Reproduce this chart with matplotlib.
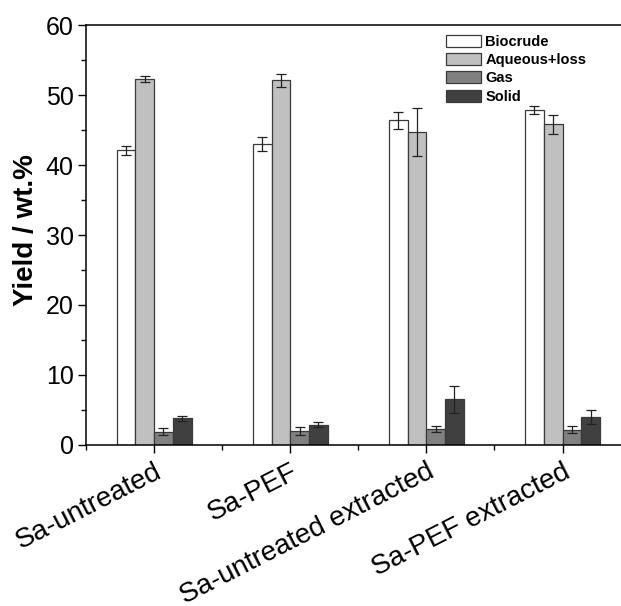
import numpy as np
import matplotlib.pyplot as plt
from matplotlib.ticker import MultipleLocator, FixedLocator

plt.rcParams['font.family'] = ['Liberation Sans', 'DejaVu Sans']

samples = ['Sa-untreated', 'Sa-PEF', 'Sa-untreated extracted', 'Sa-PEF extracted']
phases = ['Biocrude', 'Aqueous+loss', 'Gas', 'Solid']
colors = ['#ffffff', '#c0c0c0', '#808080', '#404040']

biocrude = [42.1, 43.0, 46.4, 47.9]
biocrude_err = [0.6, 1.0, 1.2, 0.55]
aqueous = [52.3, 52.1, 44.7, 45.8]
aqueous_err = [0.4, 0.9, 3.4, 1.3]
gas = [1.9, 2.0, 2.3, 2.2]
gas_err = [0.5, 0.55, 0.4, 0.5]
solid = [3.8, 2.9, 6.5, 4.0]
solid_err = [0.4, 0.4, 1.9, 1.0]

values = [biocrude, aqueous, gas, solid]
errors = [biocrude_err, aqueous_err, gas_err, solid_err]

fig = plt.figure(figsize=(6.21, 6.06), dpi=100)
ax = fig.add_axes([0.1385, 0.2657, 0.877, 0.693])

x = np.arange(1, len(samples) + 1)
w = 0.1375
for i, (vals, errs) in enumerate(zip(values, errors)):
    ax.bar(x + (i - 1.5) * w, vals, w, color=colors[i], edgecolor='#3a3a3a',
           linewidth=0.9, label=phases[i], zorder=2)
    ax.errorbar(x + (i - 1.5) * w, vals, yerr=errs, fmt='none', ecolor='#222222',
                elinewidth=0.9, capsize=3.5, capthick=0.9, zorder=3)

ax.set_xlim(0.5, 4.5)
ax.set_ylim(0, 60)
ax.yaxis.set_major_locator(MultipleLocator(10))
ax.yaxis.set_minor_locator(MultipleLocator(5))
ax.set_xticks(x)
ax.xaxis.set_minor_locator(FixedLocator([0.5, 1.5, 2.5, 3.5]))
ax.set_xticklabels(samples, rotation=27, ha='right', va='top',
                   rotation_mode='anchor', fontsize=20)
ax.tick_params(axis='y', labelsize=18, direction='out', length=6, width=1, pad=3)
ax.tick_params(axis='x', direction='out', length=6, width=1, pad=4)
ax.tick_params(which='minor', direction='out', length=3.5, width=1)
ax.set_ylabel('Yield / wt.%', fontsize=20, fontweight='bold')
ax.yaxis.set_label_coords(-0.086, 0.512)

for side in ['left', 'bottom', 'top']:
    ax.spines[side].set_linewidth(1.1)
ax.spines['right'].set_visible(False)

ax.legend(loc='upper left', bbox_to_anchor=(446 / 621, 1 - 35 / 606),
          bbox_transform=fig.transFigure, frameon=False, borderpad=0,
          borderaxespad=0, prop={'weight': 'bold', 'size': 10.5},
          handlelength=2.4, handleheight=0.9, labelspacing=0.28,
          handletextpad=0.3)

fig.savefig('out.png', dpi=100)
